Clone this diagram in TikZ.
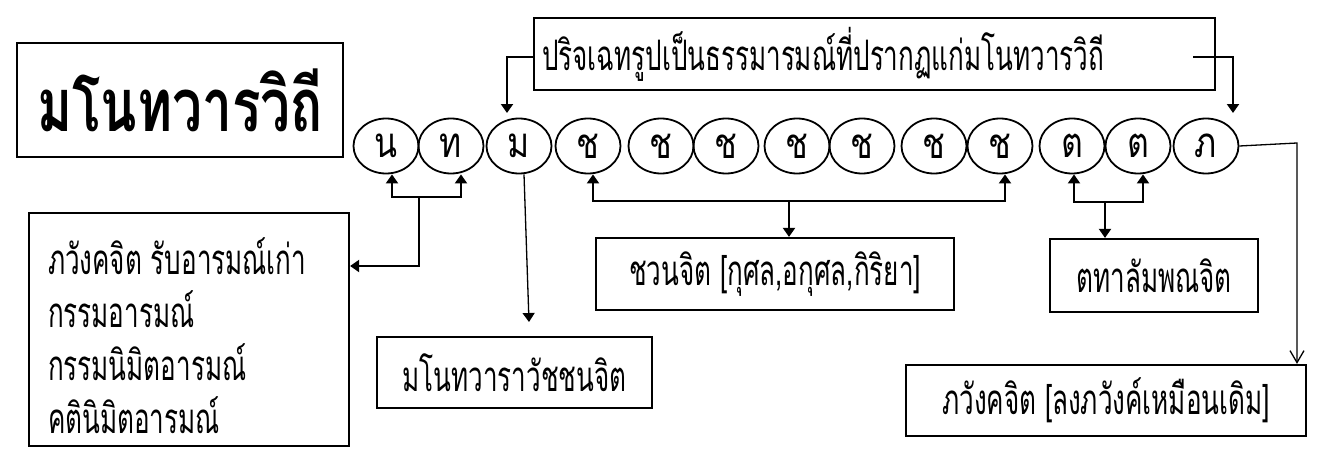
\documentclass[tikz,border=0pt]{standalone}
\usepackage{fontspec}
\newfontfamily\thai[Script=Thai,FakeStretch=0.62]{Loma}
\newfontfamily\thaic[Script=Thai,FakeStretch=0.8]{Loma}
\newfontfamily\thaititle[Script=Thai,FakeStretch=0.72]{Loma}
\usetikzlibrary{arrows.meta,shapes.geometric}
\begin{document}
\begin{tikzpicture}[x=1pt,y=-1pt,
  box/.style={draw,line width=2.2pt,inner sep=0pt,font=\thai\fontsize{42}{53}\selectfont},
  cir/.style={draw,ellipse,line width=1.8pt,minimum width=65pt,minimum height=55pt,inner sep=0pt,font=\thaic\fontsize{42}{42}\selectfont},
  arr/.style={line width=2pt,-{Triangle[length=9pt,width=12pt]}},
  thinarr/.style={line width=1.3pt,-{Triangle[length=9pt,width=12pt]}},
  barb/.style={line width=1.3pt,-{Straight Barb[length=12pt,width=14pt]}},
]
\useasboundingbox (0,0) rectangle (1331,463);
% boxes
\node[box,minimum width=326pt,minimum height=114pt,font=\thaititle\bfseries\fontsize{74}{80}\selectfont] (title) at (180,100) {มโนทวารวิถี};
\node[box,minimum width=681pt,minimum height=72pt] (top) at (874.5,54) {\makebox[665pt][l]{ปริจเฉทรูปเป็นธรรมารมณ์ที่ปรากฏแก่มโนทวารวิถี}};
\node[box,minimum width=320pt,minimum height=233pt] (left) at (189,329.5) {\parbox{282pt}{\vspace*{12pt}\raggedright ภวังคจิต รับอารมณ์เก่า\\กรรมอารมณ์\\กรรมนิมิตอารมณ์\\คตินิมิตอารมณ์}};
\node[box,minimum width=275pt,minimum height=71pt] (mono) at (514.5,372.5) {มโนทวาราวัชชนจิต};
\node[box,minimum width=358pt,minimum height=72pt] (chav) at (775,274) {ชวนจิต [กุศล,อกุศล,กิริยา]};
\node[box,minimum width=208pt,minimum height=73pt] (tada) at (1154,275.5) {ตทาลัมพณจิต};
\node[box,minimum width=400pt,minimum height=71pt] (bhav) at (1106,400.5) {ภวังคจิต [ลงภวังค์เหมือนเดิม]};
% circles
\node[cir] (n)  at (386,146) {น};
\node[cir] (t)  at (451,146) {ท};
\node[cir] (m)  at (519,146) {ม};
\node[cir] (c1) at (588,146) {ช};
\node[cir] (c2) at (661,146) {ช};
\node[cir] (c3) at (726,146) {ช};
\node[cir] (c4) at (797,146) {ช};
\node[cir] (c5) at (862,146) {ช};
\node[cir] (c6) at (934,146) {ช};
\node[cir] (c7) at (1000,146) {ช};
\node[cir] (t1) at (1072,146) {ต};
\node[cir] (t2) at (1138,146) {ต};
\node[cir] (bh) at (1206,146) {ภ};
% coordinates
\coordinate (mtip) at (507,113);
\coordinate (rs) at (1193,57);
\coordinate (btip) at (1233,113);
\coordinate (nt) at (419,197);
\coordinate (mtip2) at (529,322);
\coordinate (cb) at (789,201);
\coordinate (tb) at (1105,202);
\coordinate (rc) at (1297,143);
% connectors
\draw[arr] ([yshift=-3pt]top.west) -| (mtip);
\draw[arr] (rs) -| (btip);
\draw[arr] (nt) -| ([xshift=6pt]n.south);
\draw[arr] (nt) -| ([xshift=10pt]t.south);
\draw[arr] (nt) |- ([yshift=63.5pt]left.east);
\draw[thinarr] ([xshift=5pt]m.south) -- (mtip2);
\draw[arr] (cb) -| ([xshift=5pt]c1.south);
\draw[arr] (cb) -| ([xshift=5pt]c7.south);
\draw[arr] (cb) -- (cb |- chav.north);
\draw[arr] (tb) -| ([xshift=2pt]t1.south);
\draw[arr] (tb) -| ([xshift=5pt]t2.south);
\draw[arr] (tb) -- (tb |- tada.north);
\draw[barb] (bh.east) -- (rc) -- (rc |- bhav.north);
\end{tikzpicture}
\end{document}
